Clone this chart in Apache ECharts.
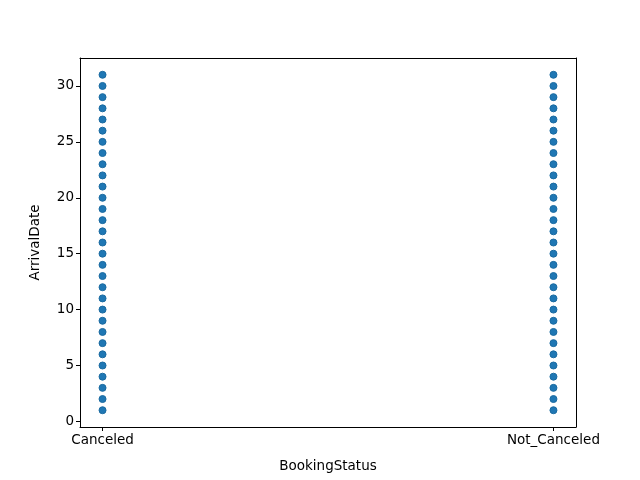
<!DOCTYPE html>
<html><head><meta charset="utf-8">
<script src="https://cdn.jsdelivr.net/npm/echarts@6/dist/echarts.min.js"></script>
<style>html,body{margin:0;padding:0;background:#fff}#c{width:640px;height:480px}</style>
</head><body><div id="c"></div>
<script>
const categories = ["Canceled", "Not_Canceled"];
const canceledDates = [1,2,3,4,5,6,7,8,9,10,11,12,13,14,15,16,17,18,19,20,21,22,23,24,25,26,27,28,29,30,31];
const notCanceledDates = [1,2,3,4,5,6,7,8,9,10,11,12,13,14,15,16,17,18,19,20,21,22,23,24,25,26,27,28,29,30,31];
const yTicks = [0,5,10,15,20,25,30];
const xTicks = [0,1];

const data = [];
canceledDates.forEach(v => data.push([0, v]));
notCanceledDates.forEach(v => data.push([1, v]));

const font = 'DejaVu Sans';
const fs = 13.5;
const line = {show: true, onZero: false, lineStyle: {color: '#000', width: 1}};
const chart = echarts.init(document.getElementById('c'));
chart.setOption({
  animation: false,
  grid: {left: 80, right: 64, top: 58, bottom: 53},
  xAxis: [{
    type: 'value', min: -0.05, max: 1.05,
    name: 'BookingStatus', nameLocation: 'middle', nameGap: 32,
    nameTextStyle: {color: '#000', fontSize: fs, fontFamily: font},
    axisLine: line,
    axisTick: {show: true, length: 4, lineStyle: {color: '#000'}, customValues: xTicks},
    axisLabel: {color: '#000', fontSize: fs, fontFamily: font, margin: 6,
      customValues: xTicks, formatter: v => categories[Math.round(v)]},
    splitLine: {show: false}
  }, {
    type: 'value', min: -0.05, max: 1.05, position: 'top',
    axisLine: line, axisTick: {show: false}, axisLabel: {show: false}, splitLine: {show: false}
  }],
  yAxis: [{
    type: 'value', min: -0.5, max: 32.5,
    name: 'ArrivalDate', nameLocation: 'middle', nameGap: 38,
    nameTextStyle: {color: '#000', fontSize: fs, fontFamily: font},
    axisLine: line,
    axisTick: {show: true, length: 4, lineStyle: {color: '#000'}, customValues: yTicks},
    axisLabel: {color: '#000', fontSize: fs, fontFamily: font, margin: 6,
      customValues: yTicks, formatter: v => String(v)},
    splitLine: {show: false}
  }, {
    type: 'value', min: -0.5, max: 32.5, position: 'right',
    axisLine: line, axisTick: {show: false}, axisLabel: {show: false}, splitLine: {show: false}
  }],
  series: [{
    type: 'scatter', data: data, symbolSize: 7,
    itemStyle: {color: '#1f77b4', opacity: 1, borderColor: '#1a6aa0', borderWidth: 1}
  }]
});
</script></body></html>
